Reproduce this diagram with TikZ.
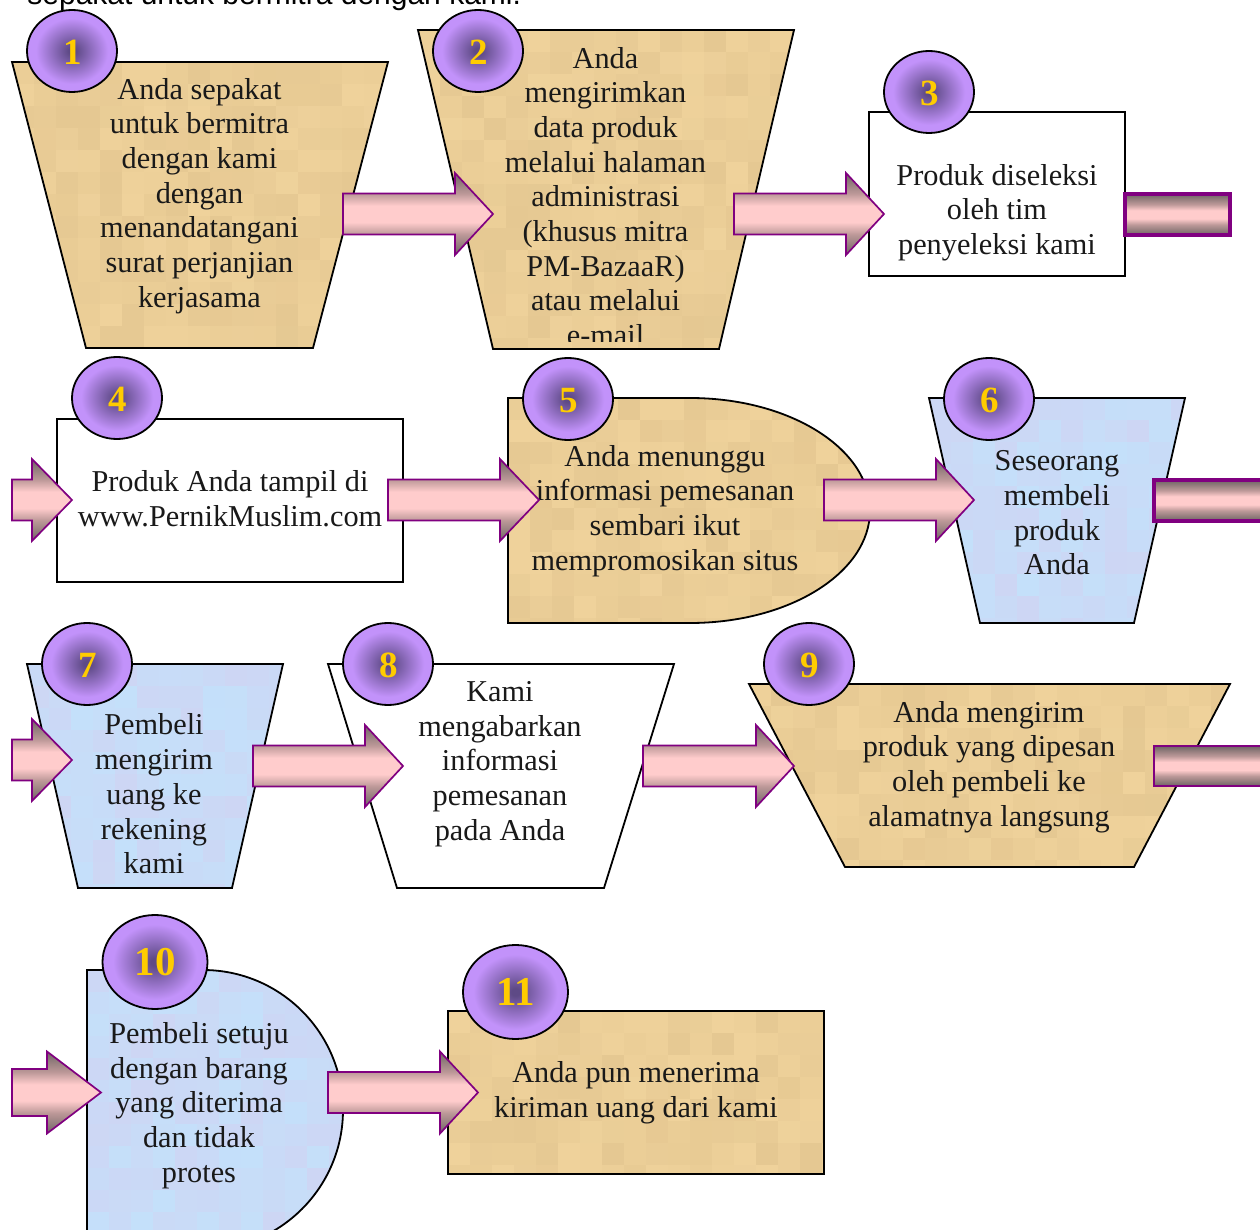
\documentclass[tikz,border=0pt]{standalone}
\usepackage{fontspec}
\setmainfont{Liberation Serif}
\newfontfamily\topfont{Liberation Sans}
\usetikzlibrary{shapes.geometric}
\definecolor{tanA}{HTML}{EFD29B}
\definecolor{tanB}{HTML}{E5C892}
\definecolor{bluA}{HTML}{C4E0FA}
\definecolor{bluB}{HTML}{CDD6F4}
\definecolor{ballIn}{HTML}{5E4A86}
\definecolor{ballOut}{HTML}{C292FA}
\definecolor{arrE}{HTML}{6E6464}
\definecolor{arrM}{HTML}{BC9898}
\definecolor{arrC}{HTML}{FFCCCC}
\definecolor{arrLine}{HTML}{800080}
\definecolor{digit}{HTML}{FFCC00}
\pgfdeclareverticalshading{arrshade}{100bp}{color(0bp)=(arrE); color(25bp)=(arrE); color(37.5bp)=(arrM); color(45bp)=(arrC); color(55bp)=(arrC); color(62.5bp)=(arrM); color(75bp)=(arrE); color(100bp)=(arrE)}
\pgfdeclareradialshading{ballshade}{\pgfpoint{0bp}{0bp}}{color(0bp)=(ballIn); color(2bp)=(ballIn); color(20bp)=(ballOut); color(50bp)=(ballOut)}
\tikzset{
  outline/.style={draw=black,line width=0.9pt},
  ballnode/.style={ellipse,draw=black,line width=0.9pt,shading=ballshade,inner sep=0pt,minimum width=45pt,minimum height=41pt,text=digit,text height=13.5pt,text depth=0pt,font=\fontsize{18.5}{20}\selectfont\bfseries},
  bigball/.style={ballnode,minimum width=52.5pt,minimum height=47pt,text height=13.9pt,font=\fontsize{20.5}{22}\selectfont\bfseries},
  txt/.style={align=center,inner sep=0pt,text=black!90,font=\fontsize{15.15}{17.35}\selectfont},
  arrowshape/.style={draw=arrLine,line width=0.85pt,shading=arrshade,line join=miter},
  stubthick/.style={arrowshape,line width=1.6pt},
}
% mottled fill: path, x0,y0,x1,y1, colour A, colour B
\newcommand\mottle[7]{%
  \begin{scope}
    \clip #1;
    \pgfmathtruncatemacro\xnext{#2+22}
    \pgfmathtruncatemacro\ynext{#3+22}
    \foreach \xx in {#2,\xnext,...,#4}{
      \foreach \yy in {#3,\ynext,...,#5}{
        \pgfmathrandominteger{\rr}{0}{100}
        \fill[#6!\rr!#7] (\xx,\yy) rectangle ++(23,23);
      }
    }
  \end{scope}
  \draw[outline] #1;
}
% block arrow: tail x, neck x, tip x, centre y, shaft half, head half
\newcommand\blockarrow[6]{%
  \path[arrowshape] (#1,#4-#5) -- (#2,#4-#5) -- (#2,#4-#6) -- (#3,#4) -- (#2,#4+#6) -- (#2,#4+#5) -- (#1,#4+#5) -- cycle;
}
\begin{document}
\begin{tikzpicture}[x=0.5pt,y=-0.5pt]
\pgfmathsetseed{4711}
\useasboundingbox (0,0) rectangle (1260,1230);
\fill[white] (0,0) rectangle (1260,1230);

\node[anchor=base west,inner sep=0pt,font=\topfont\fontsize{15}{17}\selectfont] (top) at (27,5) {sepakat untuk bermitra dengan kami.};

% 1
\mottle{(12,62) -- (388,62) -- (313,348) -- (86,348) -- cycle}{12}{62}{388}{348}{tanA}{tanB}
\node[txt] (t1) at (199.5,196) {Anda sepakat\\untuk bermitra\\dengan kami\\dengan\\menandatangani\\surat perjanjian\\kerjasama};
\node[ballnode] (b1) at (72,51) {\kern1pt 1};
% 2
\mottle{(418,30) -- (794,30) -- (719,349) -- (493,349) -- cycle}{418}{30}{794}{349}{tanA}{tanB}
\begin{scope}
  \clip (430,30) rectangle (780,342);
  \node[txt] (t2) at (605.5,196.5) {Anda\\mengirimkan\\data produk\\melalui halaman\\administrasi\\(khusus mitra\\PM-BazaaR)\\atau melalui\\e-mail};
\end{scope}
\node[ballnode] (b2) at (478,51) {\kern1pt 2};
\blockarrow{343}{455}{493}{214}{20.5}{41}
% 3
\draw[outline,fill=white] (869,112) rectangle (1125,276);
\node[txt] (t3) at (997,212.5) {Produk diseleksi\\oleh tim\\penyeleksi kami};
\node[ballnode] (b3) at (929,92) {\kern1pt 3};
\blockarrow{734}{846}{884}{214}{20.5}{41}
\path[stubthick] (1125,194) rectangle (1230,235);

% 4
\draw[outline,fill=white] (57,419) rectangle (403,582);
\node[txt] (t4) at (230,498.5) {Produk Anda tampil di\\www.PernikMuslim.com};
\node[ballnode] (b4) at (117,398) {\kern1pt 4};
\blockarrow{12}{32}{72}{500}{20.5}{41}
% 5
\mottle{(508,398) -- (690,398) .. controls (789.4,398) and (870,448.4) .. (870,510.5) .. controls (870,572.6) and (789.4,623) .. (690,623) -- (508,623) -- cycle}{508}{398}{870}{623}{tanA}{tanB}
\node[txt] (t5) at (665,511) {Anda menunggu\\informasi pemesanan\\sembari ikut\\mempromosikan situs};
\node[ballnode] (b5) at (568,399) {\kern1pt 5};
\blockarrow{388}{500}{539}{500}{20.5}{41}
% 6
\mottle{(929,398) -- (1185,398) -- (1134,623) -- (980,623) -- cycle}{929}{398}{1185}{623}{bluA}{bluB}
\node[txt] (t6) at (1057,513) {Seseorang\\membeli\\produk\\Anda};
\node[ballnode] (b6) at (989,399) {\kern1pt 6};
\blockarrow{824}{936}{974}{500}{20.5}{41}
\path[stubthick] (1154,480) rectangle (1264,521);

% 7
\mottle{(27,664) -- (283,664) -- (232,888) -- (78,888) -- cycle}{27}{664}{283}{888}{bluA}{bluB}
\node[txt] (t7) at (154,794) {Pembeli\\mengirim\\uang ke\\rekening\\kami};
\node[ballnode] (b7) at (87,664) {\kern1pt 7};
\blockarrow{12}{32}{72}{760}{20.5}{41}
% 8
\draw[outline,fill=white] (328,664) -- (674,664) -- (604,888) -- (397,888) -- cycle;
\node[txt] (t8) at (500,764) {Kami\\mengabarkan\\informasi\\pemesanan\\pada Anda};
\node[ballnode] (b8) at (388,664) {\kern1pt 8};
\blockarrow{253}{365}{403}{766}{20.5}{41}
% 9
\mottle{(749,684) -- (1230,684) -- (1134,867) -- (845,867) -- cycle}{749}{684}{1230}{867}{tanA}{tanB}
\node[txt] (t9) at (989,767) {Anda mengirim\\produk yang dipesan\\oleh pembeli ke\\alamatnya langsung};
\node[ballnode] (b9) at (809,664) {\kern1pt 9};
\blockarrow{643}{756}{794}{766}{20.5}{41}
\path[arrowshape] (1154,746) rectangle (1264,786);

% 10
\mottle{(87,970) -- (203,970) .. controls (280.3,970) and (343,1032.7) .. (343,1110) .. controls (343,1187.3) and (280.3,1250) .. (203,1250) -- (87,1250) -- cycle}{87}{970}{343}{1250}{bluA}{bluB}
\node[txt] (t10) at (199,1105.5) {Pembeli setuju\\dengan barang\\yang diterima\\dan tidak\\protes};
\node[bigball] (b10) at (155,962) {10};
\blockarrow{12}{47}{101}{1092.5}{23.5}{41}
% 11
\mottle{(448,1011) -- (824,1011) -- (824,1174) -- (448,1174) -- cycle}{448}{1011}{824}{1174}{tanA}{tanB}
\node[txt] (t11) at (636,1093) {Anda pun menerima\\kiriman uang dari kami};
\node[bigball] (b11) at (515.5,992) {11};
\blockarrow{328}{440}{478}{1092.5}{20.5}{41}
\end{tikzpicture}
\end{document}
